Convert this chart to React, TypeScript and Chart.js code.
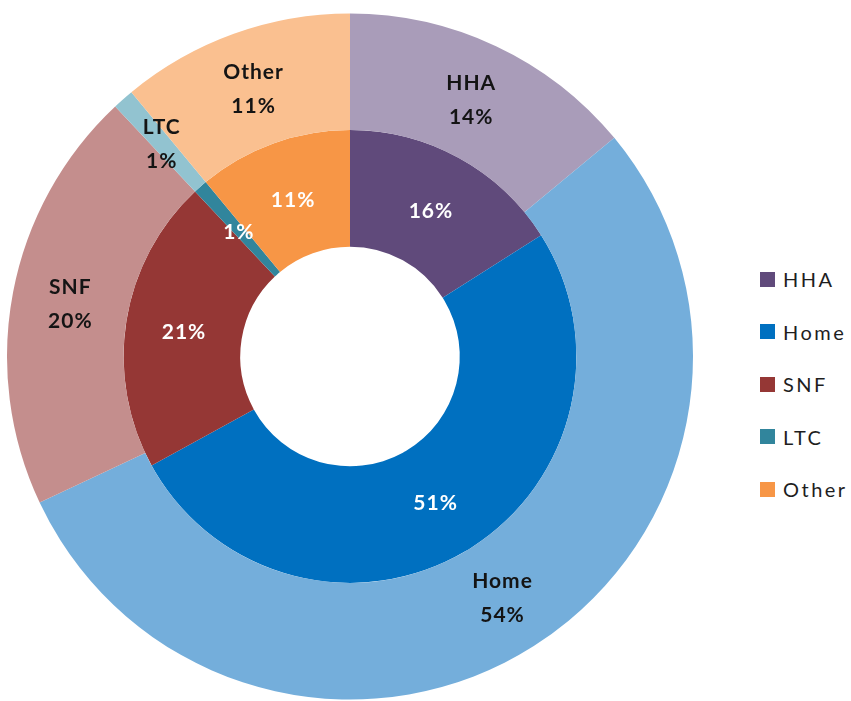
import React, { useEffect, useRef } from "react";
import { Chart, registerables } from "chart.js";

Chart.register(...registerables);

const categories = ["HHA", "Home", "SNF", "LTC", "Other"];
const outerValues = [14, 54, 20, 1, 11];
const innerValues = [16, 51, 21, 1, 11];
const innerColors = ["#604A7B", "#0070C0", "#953735", "#31859C", "#F79646"];
const outerColors = ["#A99CB9", "#74AEDB", "#C48E8D", "#92C3D0", "#FAC090"];

const FONT = "Lato, 'Open Sans', sans-serif";

const labelPlugin = {
  id: "ringLabels",
  afterDatasetsDraw(chart: any) {
    const ctx = chart.ctx as CanvasRenderingContext2D;
    ctx.save();
    ctx.textAlign = "center";
    ctx.textBaseline = "middle";
    chart.data.datasets.forEach((ds: any, di: number) => {
      const meta = chart.getDatasetMeta(di);
      meta.data.forEach((arc: any, i: number) => {
        const p = arc.getCenterPoint();
        const v = ds.data[i];
        ctx.font = `bold 21px ${FONT}`;
        (ctx as any).letterSpacing = "1px";
        if (di === 0) {
          ctx.fillStyle = "#141414";
          ctx.fillText(categories[i], p.x, p.y - 16);
          ctx.fillText(`${v}%`, p.x, p.y + 18);
        } else {
          ctx.fillStyle = "#ffffff";
          ctx.fillText(`${v}%`, p.x, p.y + 2);
        }
      });
    });
    ctx.restore();
  },
};

export default function App() {
  const ref = useRef<HTMLCanvasElement | null>(null);
  useEffect(() => {
    if (!ref.current) return;
    const chart = new Chart(ref.current, {
      type: "doughnut",
      data: {
        labels: categories,
        datasets: [
          {
            label: "Outer",
            data: outerValues,
            backgroundColor: outerColors,
            borderWidth: 0,
            hoverOffset: 0,
          },
          {
            label: "Inner",
            data: innerValues,
            backgroundColor: innerColors,
            borderWidth: 0,
            hoverOffset: 0,
          },
        ],
      },
      options: {
        animation: false,
        responsive: false,
        cutout: "32%",
        layout: { padding: { left: 7, right: 7, top: 12, bottom: 0 } },
        plugins: {
          legend: { display: false },
          tooltip: { enabled: false },
        },
      },
      plugins: [labelPlugin],
    });
    return () => chart.destroy();
  }, []);

  return (
    <div style={{ position: "absolute", left: 0, top: 0, width: 851, height: 701, background: "#fff" }}>
      <canvas ref={ref} width={700} height={701} style={{ position: "absolute", left: 0, top: 0 }} />
      <div style={{ position: "absolute", left: 760, top: 266 }}>
        {categories.map((c, i) => (
          <div
            key={c}
            style={{
              position: "absolute",
              left: 0,
              top: i * 52.5,
              height: 26,
              display: "flex",
              alignItems: "center",
              whiteSpace: "nowrap",
              fontFamily: FONT,
              fontSize: 20,
              letterSpacing: "2.5px",
              color: "#1e1e1e",
            }}
          >
            <span style={{ display: "inline-block", width: 15, height: 15, background: innerColors[i], marginRight: 8 }} />
            <span>{c}</span>
          </div>
        ))}
      </div>
    </div>
  );
}
